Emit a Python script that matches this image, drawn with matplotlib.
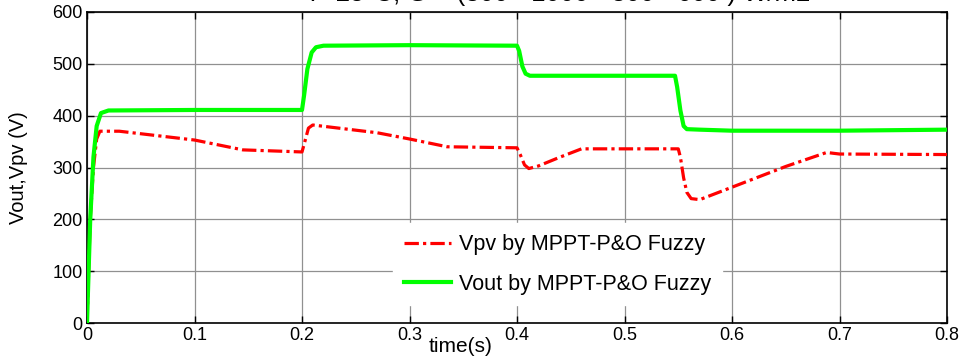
import matplotlib
matplotlib.use("Agg")
import matplotlib.pyplot as plt

plt.rcParams['font.family'] = ['Liberation Sans', 'DejaVu Sans']

# Vout (green) breakpoints
t_vout = [0, 0.003, 0.006, 0.009, 0.013, 0.02, 0.1, 0.2, 0.202, 0.205, 0.209, 0.213, 0.22, 0.3, 0.4,
          0.402, 0.405, 0.408, 0.412, 0.42, 0.547, 0.549, 0.552, 0.555, 0.558, 0.57, 0.6, 0.7, 0.75, 0.8]
vout = [0, 200, 320, 380, 405, 410, 411, 411, 440, 490, 522, 532, 535, 536, 535,
        525, 495, 481, 477, 477, 477, 455, 410, 380, 374, 373, 371, 371, 372, 373]

# Vpv (red) breakpoints
t_vpv = [0, 0.003, 0.006, 0.009, 0.012, 0.03, 0.1, 0.145, 0.2, 0.202, 0.206, 0.21, 0.27, 0.3, 0.335, 0.4,
         0.403, 0.407, 0.411, 0.42, 0.44, 0.46, 0.55, 0.552, 0.555, 0.558, 0.562, 0.57, 0.6, 0.65, 0.688, 0.7, 0.8]
vpv = [0, 200, 300, 355, 370, 370, 353, 334, 330, 345, 376, 382, 367, 355, 340, 338,
       325, 305, 298, 303, 320, 336, 336, 320, 280, 252, 240, 238, 262, 302, 329, 326, 325]

xticks = [0, 0.1, 0.2, 0.3, 0.4, 0.5, 0.6, 0.7, 0.8]
xticklabels = ['0', '0.1', '0.2', '0.3', '0.4', '0.5', '0.6', '0.7', '0.8']
yticks = [0, 100, 200, 300, 400, 500, 600]

fig = plt.figure(figsize=(9.6, 3.6), dpi=100)
ax = fig.add_axes([87/960, 37/360, 860/960, 311/360])

ax.plot(t_vpv, vpv, color='#ff0000', lw=2.3, linestyle=(0, (4.5, 1.3, 1, 1.3)),
        label='Vpv by MPPT-P&O Fuzzy', zorder=3)
ax.plot(t_vout, vout, color='#00ff00', lw=3.0, label='Vout by MPPT-P&O Fuzzy', zorder=4)

ax.set_xlim(0, 0.8)
ax.set_ylim(0, 600)
ax.set_xticks(xticks)
ax.set_xticklabels(xticklabels)
ax.set_yticks(yticks)
ax.grid(True, color='#909090', lw=0.9, ls='-')
ax.set_axisbelow(True)
ax.tick_params(direction='in', top=True, right=True, length=5, width=1, labelsize=13, pad=3)
for s in ax.spines.values():
    s.set_linewidth(1.2)

ax.set_xlabel('time(s)', fontsize=15)
ax.xaxis.set_label_coords(0.434, -0.075)
ax.xaxis.label.set_va('center')
ax.set_ylabel('Vout,Vpv (V)', fontsize=14.5)
ax.yaxis.set_label_coords(-0.08, 0.5)
ax.yaxis.label.set_va('center')

leg = ax.legend(loc='upper left', bbox_to_anchor=(0.356, 0.32), borderaxespad=0,
                fontsize=15.5, handlelength=2.2, labelspacing=0.85, handletextpad=0.35,
                borderpad=0.5,
                frameon=True, fancybox=False, edgecolor='white', facecolor='white', framealpha=1)

fig.text(0.581, 0.996, 'T=25°C, G = (800 - 1000 - 800 - 600 ) W/m2', fontsize=18.5,
         ha='center', va='baseline')

fig.savefig('out.png', dpi=100)
